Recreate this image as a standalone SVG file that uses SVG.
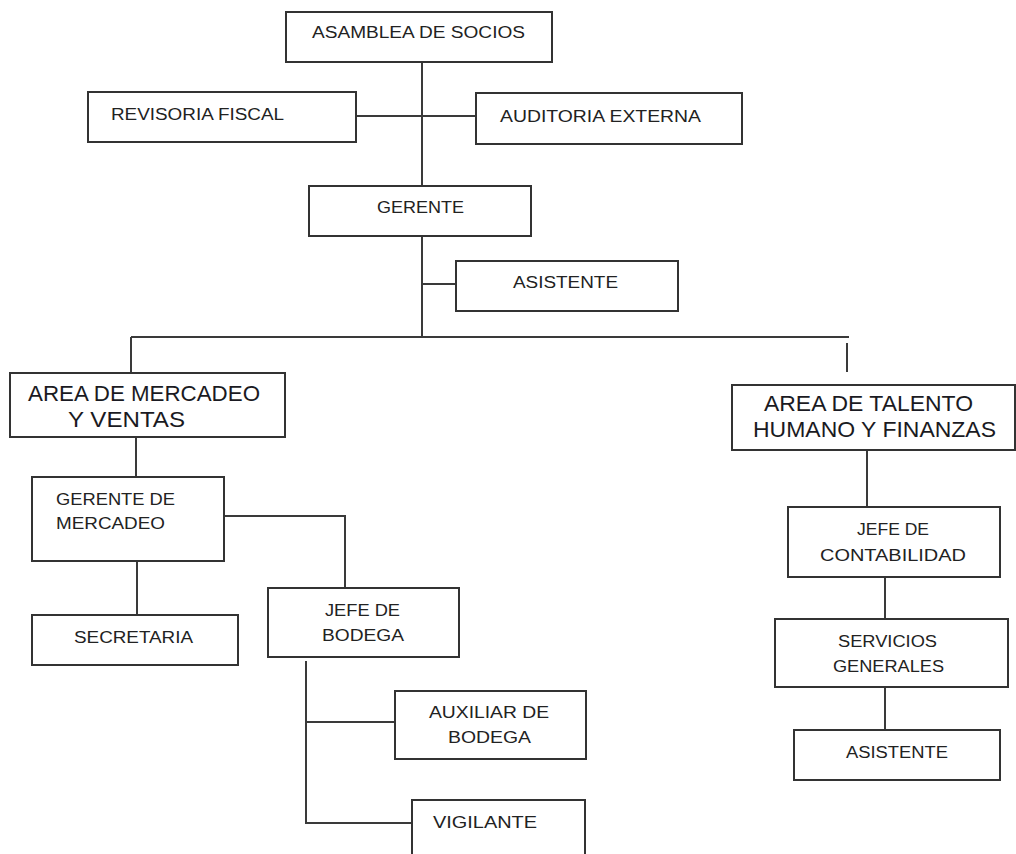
<svg xmlns="http://www.w3.org/2000/svg" width="1016" height="854" viewBox="0 0 1016 854">
<style>
.box{fill:#fff;stroke:#333;stroke-width:2}
.t{font-family:"Liberation Sans",Arial,sans-serif;font-size:16px;fill:#222}
.a{font-family:"Liberation Sans",Arial,sans-serif;font-size:22px;fill:#1a1a22}
.c{fill:none;stroke:#3a3a3a;stroke-width:2}
</style>
<rect width="1016" height="854" fill="#fff"/>
<g id="connectors">
<path class="c" d="M422 62V186"/>
<path class="c" d="M356 116H476"/>
<path class="c" d="M422 236V337"/>
<path class="c" d="M422 284H456"/>
<path class="c" d="M131 337H849"/>
<path class="c" d="M131 337V373"/>
<path class="c" d="M847 343V372"/>
<path class="c" d="M136 437V477"/>
<path class="c" d="M224 516H345V588"/>
<path class="c" d="M137 561V615"/>
<path class="c" d="M306 661V823H412"/>
<path class="c" d="M306 722H395"/>
<path class="c" d="M867 450V507"/>
<path class="c" d="M885 577V619"/>
<path class="c" d="M885 687V730"/>
</g>
<g id="asamblea"><rect class="box" x="286" y="12" width="266" height="50"/><text class="t" x="312" y="38" textLength="213" lengthAdjust="spacingAndGlyphs">ASAMBLEA DE SOCIOS</text></g>
<g id="revisoria"><rect class="box" x="88" y="92" width="268" height="50"/><text class="t" x="111" y="120" textLength="173" lengthAdjust="spacingAndGlyphs">REVISORIA FISCAL</text></g>
<g id="auditoria"><rect class="box" x="476" y="93" width="266" height="51"/><text class="t" x="500" y="122" textLength="201" lengthAdjust="spacingAndGlyphs">AUDITORIA EXTERNA</text></g>
<g id="gerente"><rect class="box" x="309" y="186" width="222" height="50"/><text class="t" x="377" y="213" textLength="87" lengthAdjust="spacingAndGlyphs">GERENTE</text></g>
<g id="asistente1"><rect class="box" x="456" y="261" width="222" height="50"/><text class="t" x="513" y="288" textLength="105" lengthAdjust="spacingAndGlyphs">ASISTENTE</text></g>
<g id="area-mercadeo"><rect class="box" x="10" y="373" width="275" height="64"/><text class="a" x="28" y="401" textLength="232" lengthAdjust="spacingAndGlyphs">AREA DE MERCADEO</text><text class="a" x="68" y="427" textLength="117" lengthAdjust="spacingAndGlyphs">Y VENTAS</text></g>
<g id="area-talento"><rect class="box" x="732" y="385" width="283" height="65"/><text class="a" x="764" y="411" textLength="209" lengthAdjust="spacingAndGlyphs">AREA DE TALENTO</text><text class="a" x="753" y="437" textLength="243" lengthAdjust="spacingAndGlyphs">HUMANO Y FINANZAS</text></g>
<g id="gerente-mercadeo"><rect class="box" x="32" y="477" width="192" height="84"/><text class="t" x="56" y="505" textLength="119" lengthAdjust="spacingAndGlyphs">GERENTE DE</text><text class="t" x="56" y="529" textLength="109" lengthAdjust="spacingAndGlyphs">MERCADEO</text></g>
<g id="secretaria"><rect class="box" x="32" y="615" width="206" height="50"/><text class="t" x="74" y="643" textLength="119" lengthAdjust="spacingAndGlyphs">SECRETARIA</text></g>
<g id="jefe-bodega"><rect class="box" x="268" y="588" width="191" height="69"/><text class="t" x="325" y="616" textLength="75" lengthAdjust="spacingAndGlyphs">JEFE DE</text><text class="t" x="322" y="641" textLength="82" lengthAdjust="spacingAndGlyphs">BODEGA</text></g>
<g id="auxiliar"><rect class="box" x="395" y="691" width="191" height="68"/><text class="t" x="429" y="718" textLength="120" lengthAdjust="spacingAndGlyphs">AUXILIAR DE</text><text class="t" x="448" y="743" textLength="83" lengthAdjust="spacingAndGlyphs">BODEGA</text></g>
<g id="vigilante"><rect class="box" x="412" y="800" width="173" height="70"/><text class="t" x="433" y="828" textLength="104" lengthAdjust="spacingAndGlyphs">VIGILANTE</text></g>
<g id="jefe-contabilidad"><rect class="box" x="788" y="507" width="212" height="70"/><text class="t" x="857" y="535" textLength="72" lengthAdjust="spacingAndGlyphs">JEFE DE</text><text class="t" x="820" y="561" textLength="146" lengthAdjust="spacingAndGlyphs">CONTABILIDAD</text></g>
<g id="servicios"><rect class="box" x="775" y="619" width="233" height="68"/><text class="t" x="838" y="647" textLength="99" lengthAdjust="spacingAndGlyphs">SERVICIOS</text><text class="t" x="833" y="672" textLength="111" lengthAdjust="spacingAndGlyphs">GENERALES</text></g>
<g id="asistente2"><rect class="box" x="794" y="730" width="206" height="50"/><text class="t" x="846" y="758" textLength="102" lengthAdjust="spacingAndGlyphs">ASISTENTE</text></g>
</svg>
